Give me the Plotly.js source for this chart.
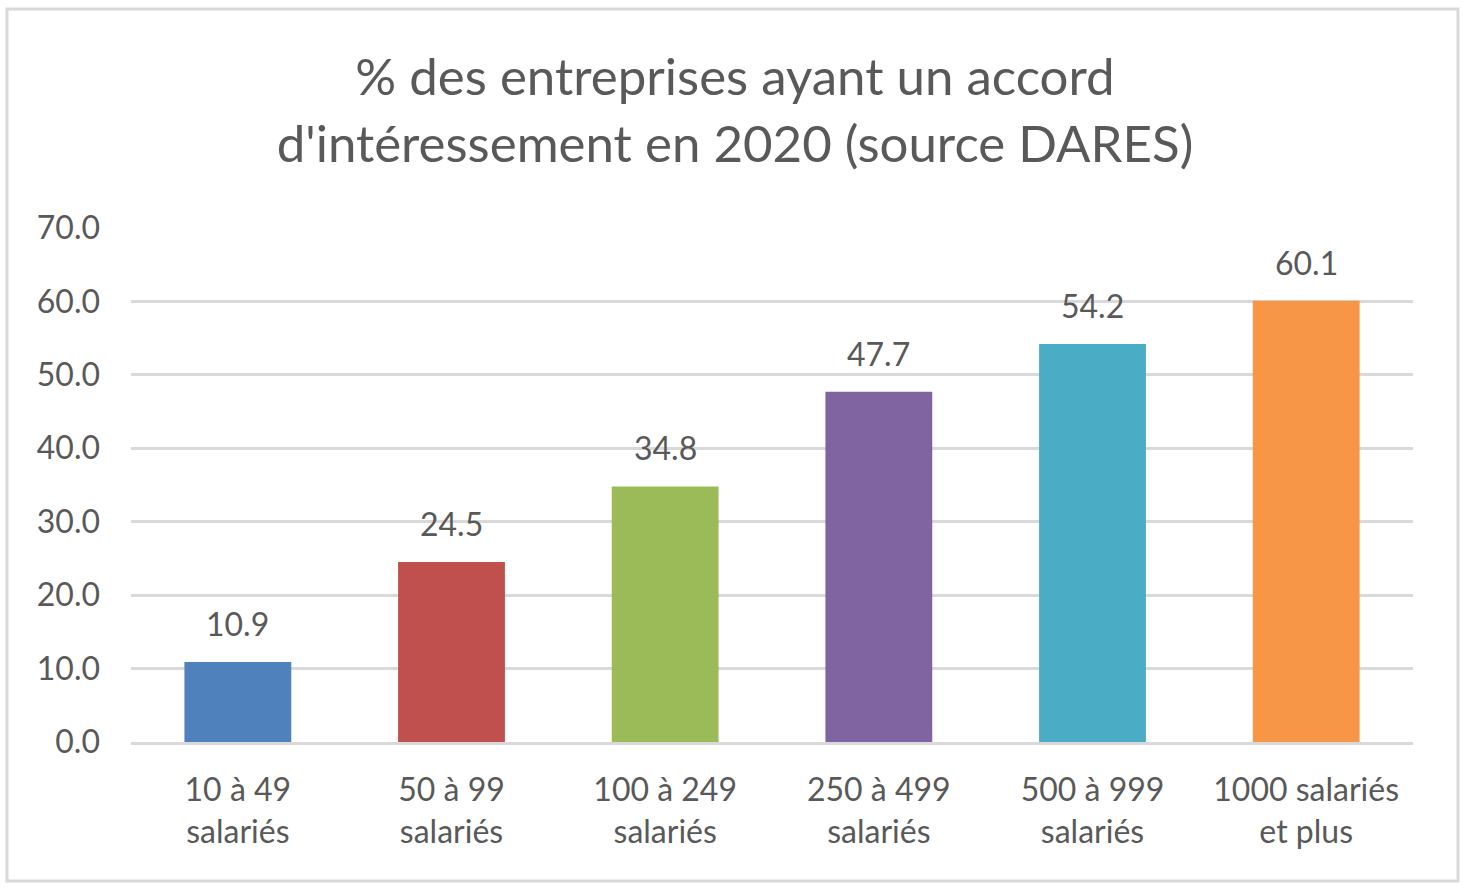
<!DOCTYPE html>
<html>
<head>
<meta charset="utf-8">
<script src="https://cdn.plot.ly/plotly-3.0.1.min.js"></script>
<style>
html,body{margin:0;padding:0;background:#fff;}
#chart{width:1470px;height:890px;}
</style>
</head>
<body>
<div id="chart"></div>
<script>
const categories = ["10 à 49<br>salariés", "50 à 99<br>salariés", "100 à 249<br>salariés", "250 à 499<br>salariés", "500 à 999<br>salariés", "1000 salariés<br>et plus"];
const values = [10.9, 24.5, 34.8, 47.7, 54.2, 60.1];
const barColors = ["#4F81BD", "#C0504D", "#9BBB59", "#8064A2", "#4BACC6", "#F79646"];
const yTicks = [0, 10, 20, 30, 40, 50, 60, 70];
const titleText = "% des entreprises ayant un accord<br>d'intéressement en 2020 (source DARES)";

const fontFam = "Lato, 'Open Sans', sans-serif";
const textCol = "#595959";

const trace = {
  type: "bar",
  x: categories,
  y: values,
  marker: {color: barColors},
  hoverinfo: "x+y"
};

const annotations = categories.map((c, i) => ({
  x: c, y: values[i], xref: "x", yref: "y",
  text: values[i].toFixed(1),
  showarrow: false, yanchor: "bottom", yshift: 17,
  font: {family: fontFam, size: 32, color: textCol}
}));

const layout = {
  width: 1470, height: 890,
  margin: {l: 131, r: 57, t: 228, b: 148},
  paper_bgcolor: "#ffffff",
  plot_bgcolor: "#ffffff",
  showlegend: false,
  bargap: 0.5,
  title: {
    text: titleText,
    x: 0.5, xanchor: "center",
    y: 0.893, yanchor: "middle", yref: "container",
    font: {family: fontFam, size: 51, color: textCol}
  },
  xaxis: {
    type: "category",
    tickfont: {family: fontFam, size: 32, color: textCol},
    showgrid: false,
    showline: true, linecolor: "#d9d9d9", linewidth: 3,
    ticks: "", ticklabelstandoff: 18,
    fixedrange: true
  },
  yaxis: {
    range: [0, 70],
    tickvals: yTicks,
    ticktext: yTicks.map(v => v.toFixed(1)),
    tickfont: {family: fontFam, size: 32, color: textCol},
    showgrid: true, gridcolor: "#d9d9d9", gridwidth: 3,
    zeroline: false, showline: false,
    ticks: "", ticklabelstandoff: 30,
    fixedrange: true
  },
  annotations: annotations,
  shapes: [{
    type: "rect", xref: "paper", yref: "paper",
    x0: (7 - 131) / 1282, x1: (1458 - 131) / 1282,
    y0: (742 - 881) / 514, y1: (742 - 9) / 514,
    line: {color: "#d9d9d9", width: 3},
    fillcolor: "rgba(0,0,0,0)",
    layer: "below"
  }]
};

Plotly.newPlot("chart", [trace], layout, {displayModeBar: false, staticPlot: true});
</script>
</body>
</html>
